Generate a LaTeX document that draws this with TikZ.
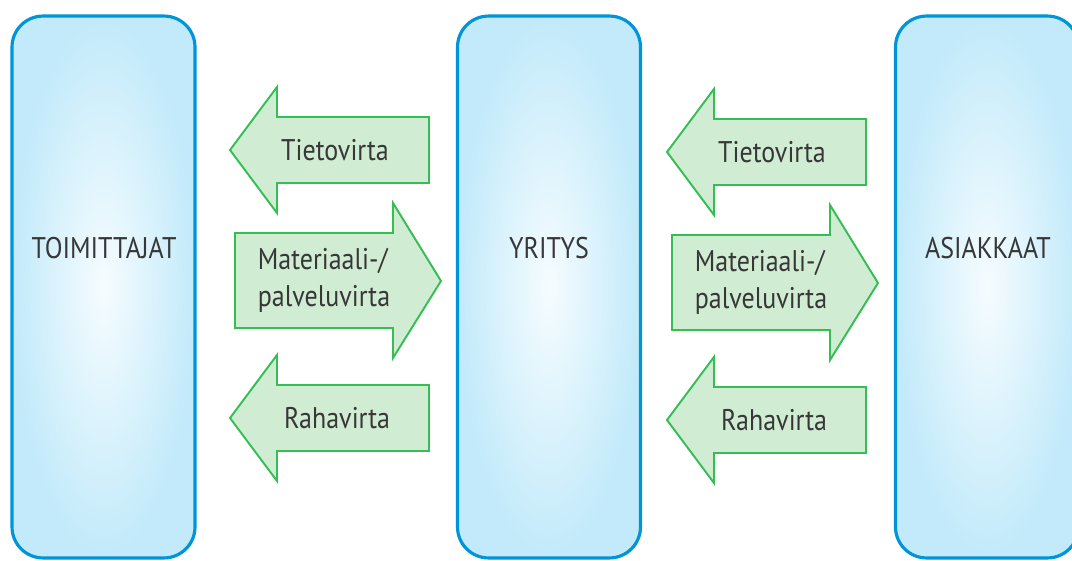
\documentclass[tikz,border=0pt]{standalone}
\usepackage{fontspec}
\setmainfont[FakeStretch=0.87]{PT Sans}
\usepackage{tikz}

\definecolor{boxline}{RGB}{0,148,216}
\definecolor{boxout}{RGB}{194,234,250}
\definecolor{boxin}{RGB}{246,252,255}
\definecolor{flowline}{RGB}{52,190,84}
\definecolor{flowfill}{RGB}{208,236,210}
\definecolor{txt}{RGB}{55,55,55}

\begin{document}
\begin{tikzpicture}[
    x=0.02cm, y=-0.02cm,
    party/.style={draw=boxline, line width=1.8pt, rounded corners=0.62cm,
                  shading=radial, inner color=boxin, outer color=boxout,
                  minimum width=3.66cm, minimum height=10.84cm, inner sep=0pt},
    flow/.style={draw=flowline, fill=flowfill, line width=1.1pt, line join=miter},
    lbl/.style={text=txt, font=\fontsize{17}{21}\selectfont, inner sep=0pt},
    flbl/.style={text=txt, font=\fontsize{17}{21}\selectfont, inner sep=0pt, align=left}
]
\useasboundingbox (0,0) rectangle (1072,561);
\clip (0,0) rectangle (1072,561);

% ================================================================
%  Parties
% ================================================================
\node[party] (toim)  at (103.5,287) {};
\node[party] (yrit)  at (549,287)   {};
\node[party] (asiak) at (987,287)   {};

\node[lbl] (toimtxt)  at (104,248) {TOIMITTAJAT};
\node[lbl] (yrittxt)  at (549,248) {YRITYS};
\node[lbl] (asiaktxt) at (988,248) {ASIAKKAAT};

% ================================================================
%  Flows between the parties
% ================================================================
\foreach \g/\dx/\dy in {l/0/0, r/437/2} {
    % information, to the left
    \draw[flow] ({230+\dx},{150+\dy}) -- ++(47,-63) -- ++(0,30) -- ++(152,0)
        -- ++(0,66) -- ++(-152,0) -- ++(0,30) -- cycle;
    \node[lbl] (tieto\g) at ({335+\dx},{150+\dy}) {Tietovirta};

    % material / service, to the right
    \draw[flow] ({235+\dx},{233+\dy}) -- ({393+\dx},{233+\dy}) -- ({393+\dx},{203+\dy})
        -- ({441+\dx},{281+\dy}) -- ({393+\dx},{358+\dy}) -- ({393+\dx},{328+\dy})
        -- ({235+\dx},{328+\dy}) -- cycle;
    \node[flbl] (mat\g) at ({324+\dx},{280+\dy}) {Materiaali-/\\palveluvirta};

    % money, to the left
    \draw[flow] ({230+\dx},{418+\dy}) -- ++(47,-63) -- ++(0,30) -- ++(152,0)
        -- ++(0,66) -- ++(-152,0) -- ++(0,30) -- cycle;
    \node[lbl] (raha\g) at ({337+\dx},{418+\dy}) {Rahavirta};
}
\end{tikzpicture}
\end{document}
